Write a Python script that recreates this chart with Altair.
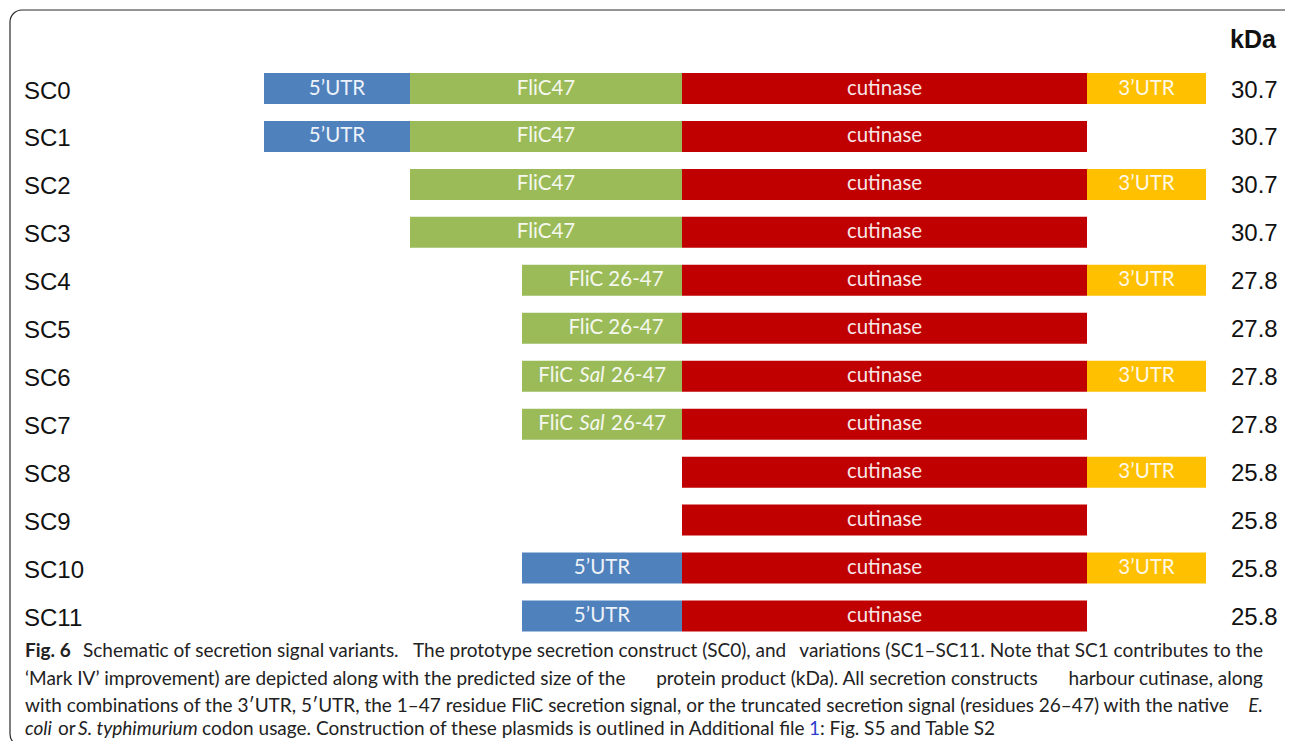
import altair as alt
import pandas as pd

# ---------------- data ----------------
constructs = ["SC0", "SC1", "SC2", "SC3", "SC4", "SC5",
              "SC6", "SC7", "SC8", "SC9", "SC10", "SC11"]
kda = ["30.7", "30.7", "30.7", "30.7", "27.8", "27.8",
       "27.8", "27.8", "25.8", "25.8", "25.8", "25.8"]
# segment lengths (schematic units), drawn left to right: 5'UTR, signal, cutinase, 3'UTR
utr5_len = [146, 146, 0, 0, 0, 0, 0, 0, 0, 0, 160, 160]
signal_name = ["FliC47", "FliC47", "FliC47", "FliC47", "FliC 26-47", "FliC 26-47",
               "FliC Sal 26-47", "FliC Sal 26-47", "", "", "", ""]
signal_len = [272, 272, 272, 272, 160, 160, 160, 160, 0, 0, 0, 0]
cutinase_len = [405, 405, 405, 405, 405, 405, 405, 405, 405, 405, 405, 405]
utr3_len = [119, 0, 119, 0, 119, 0, 119, 0, 119, 0, 119, 0]

part_names = ["5'UTR", "signal", "cutinase", "3'UTR"]
part_colors = ["#4f81bd", "#9bbb59", "#c00000", "#ffc000"]

# caption pieces: (text, style, x, align) per line
caption_lines = [
    [("Fig. 6", "bold", 17, "left"),
     ("Schematic of secretion signal variants.", "normal", 75, "left"),
     ("The prototype secretion construct (SC0), and", "normal", 405, "left"),
     ("variations (SC1\u2013SC11. Note that SC1 contributes to the", "normal", 1255, "right")],
    [("\u2018Mark IV\u2019 improvement) are depicted along with the predicted size of the", "normal", 17, "left"),
     ("protein product (kDa). All secretion constructs", "normal", 839, "center"),
     ("harbour cutinase, along", "normal", 1255, "right")],
    [("with combinations of the 3\u2032UTR, 5\u2032UTR, the 1\u201347 residue FliC secretion signal, or the truncated secretion signal (residues 26\u201347) with the native", "normal", 17, "left"),
     ("E.", "italic", 1255, "right")],
    [("coli", "italic", 17, "left"), ("or", "normal", 50, "left"),
     ("S. typhimurium", "italic", 70, "left"),
     ("codon usage. Construction of these plasmids is outlined in Additional file", "normal", 194, "left"),
     ("1", "link", 801, "left"), (": Fig. S5 and Table S2", "normal", 812, "left")],
]
caption_y = [643, 671, 698, 721]

# ---------------- build tables ----------------
seg_rows = []
for i, name in enumerate(constructs):
    s_start = -signal_len[i]
    u_start = s_start - utr5_len[i]
    if utr5_len[i]:
        seg_rows.append(dict(row=i, part="5'UTR", label="5\u2019UTR", start=u_start, end=s_start))
    if signal_len[i]:
        seg_rows.append(dict(row=i, part="signal", label=signal_name[i], start=s_start, end=0))
    seg_rows.append(dict(row=i, part="cutinase", label="cutinase", start=0, end=cutinase_len[i]))
    if utr3_len[i]:
        seg_rows.append(dict(row=i, part="3'UTR", label="3\u2019UTR",
                             start=cutinase_len[i], end=cutinase_len[i] + utr3_len[i]))
seg = pd.DataFrame(seg_rows)
seg["mid"] = (seg["start"] + seg["end"]) / 2

rows = pd.DataFrame({"row": list(range(len(constructs))), "name": constructs, "kda": kda})

cap_rows = []
for li, pieces in enumerate(caption_lines):
    for (txt, style, x, align) in pieces:
        cap_rows.append(dict(text=txt, style=style, x=x, y=caption_y[li], align=align))
cap = pd.DataFrame(cap_rows)

W, H = 1277, 733
xscale = alt.Scale(domain=[-674, 603], range=[0, W], nice=False, zero=False, padding=0)
yscale = alt.Scale(domain=[0, 11], range=[80.5, 608], nice=False, zero=False, padding=0)

X = lambda f: alt.X(f, type="quantitative", scale=xscale, axis=None)
Y = alt.Y("row:Q", scale=yscale, axis=None)

border = alt.Chart(alt.Data(values=[{}])).mark_rect(
    fillOpacity=0, stroke="#2a2a2a", strokeWidth=1.2, cornerRadius=12
).encode(x=alt.value(2), x2=alt.value(1320), y=alt.value(2), y2=alt.value(738))

bars = alt.Chart(seg).mark_bar(size=31, cornerRadius=0).encode(
    x=X("start"), x2="end", y=Y,
    color=alt.Color("part:N", scale=alt.Scale(domain=part_names, range=part_colors), legend=None),
)

lab_font = dict(font="Lato", fontSize=20.5, color="#ffffff", opacity=0.9, baseline="middle")
plain_lab = alt.Chart(seg).transform_filter(
    "datum.label != 'FliC Sal 26-47' && datum.label != 'FliC 26-47'"
).mark_text(align="center", **lab_font).encode(x=X("mid"), y=Y, text="label:N")
flic_lab = alt.Chart(seg).transform_filter("datum.label == 'FliC 26-47'").mark_text(
    align="center", dx=14, **lab_font).encode(x=X("mid"), y=Y, text="label:N")
sal_base = alt.Chart(seg).transform_filter("datum.label == 'FliC Sal 26-47'")
sal1 = sal_base.mark_text(align="right", dx=-29, **lab_font).encode(
    x=X("mid"), y=Y, text=alt.value("FliC"))
sal2 = sal_base.mark_text(align="center", dx=-10, fontStyle="italic", **lab_font).encode(
    x=X("mid"), y=Y, text=alt.value("Sal"))
sal3 = sal_base.mark_text(align="left", dx=9, **lab_font).encode(
    x=X("mid"), y=Y, text=alt.value("26-47"))

name_txt = alt.Chart(rows).mark_text(
    align="left", baseline="middle", dy=3, font="Liberation Sans", fontSize=24, color="#111"
).encode(x=alt.value(16), y=Y, text="name:N")
kda_txt = alt.Chart(rows).mark_text(
    align="left", baseline="middle", dy=2, font="Liberation Sans", fontSize=24, color="#111"
).encode(x=alt.value(1223), y=Y, text="kda:N")
kda_head = alt.Chart(alt.Data(values=[{"t": "kDa"}])).mark_text(
    align="left", baseline="middle", font="Liberation Sans", fontSize=25, fontWeight="bold", color="#111"
).encode(x=alt.value(1222), y=alt.value(32), text="t:N")

cap_font = dict(font="Lato", fontSize=19, baseline="middle")
def cap_layer(style, align, **kw):
    return alt.Chart(cap).transform_filter(
        f"datum.style == '{style}' && datum.align == '{align}'").mark_text(
        align=align, **cap_font, **kw).encode(
        x=alt.X("x:Q", scale=None, axis=None), y=alt.Y("y:Q", scale=None, axis=None), text="text:N")

cap_layers = [
    cap_layer("normal", "left", color="#222"),
    cap_layer("normal", "center", color="#222"),
    cap_layer("normal", "right", color="#222"),
    cap_layer("bold", "left", color="#222", fontWeight="bold"),
    cap_layer("italic", "left", color="#222", fontStyle="italic"),
    cap_layer("italic", "right", color="#222", fontStyle="italic"),
    cap_layer("link", "left", color="#2b3fcc"),
]

chart = alt.layer(
    border, bars, plain_lab, flic_lab, sal1, sal2, sal3,
    name_txt, kda_txt, kda_head, *cap_layers,
).properties(width=W, height=H, padding=0, autosize="none", background="white"
).configure_view(stroke=None)

chart.save("out.html", embed_options={"renderer": "svg", "actions": False})
